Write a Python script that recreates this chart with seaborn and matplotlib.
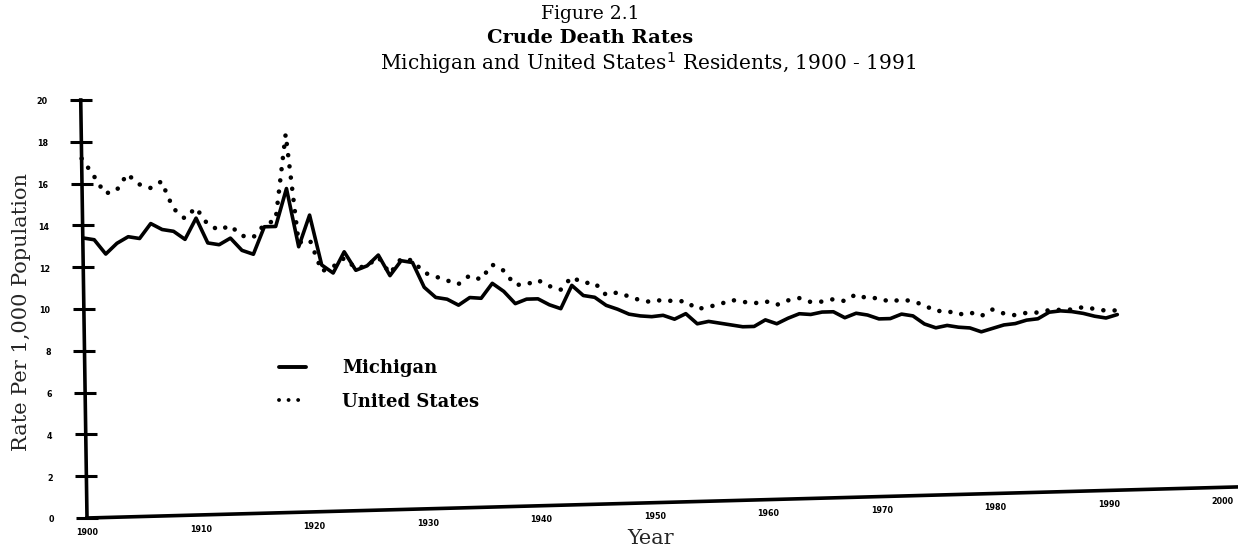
import matplotlib
matplotlib.use("Agg")
import matplotlib.pyplot as plt
from matplotlib.transforms import Affine2D
import pandas as pd
import seaborn as sns

# Crude death rates per 1,000 population
years = list(range(1900, 1992))

michigan = [
    13.4, 13.3, 12.6, 13.1, 13.4, 13.3, 14.0, 13.7, 13.6, 13.2,   # 1900s
    14.2, 13.0, 12.9, 13.2, 12.6, 12.4, 13.7, 13.7, 15.5, 12.7,   # 1910s
    14.2, 11.8, 11.4, 12.4, 11.5, 11.7, 12.2, 11.2, 11.9, 11.8,   # 1920s
    10.6, 10.1, 10.0, 9.7, 10.05, 10.0, 10.7, 10.3, 9.7, 9.9,     # 1930s
    9.9, 9.6, 9.4, 10.5, 10.0, 9.9, 9.5, 9.3, 9.05, 8.95,         # 1940s
    8.9, 8.95, 8.75, 9.0, 8.5, 8.6, 8.5, 8.4, 8.3, 8.3,           # 1950s
    8.6, 8.4, 8.65, 8.85, 8.8, 8.9, 8.9, 8.6, 8.8, 8.7,           # 1960s
    8.5, 8.5, 8.7, 8.6, 8.2, 8.0, 8.1, 8.0, 7.95, 7.75,           # 1970s
    7.9, 8.05, 8.1, 8.25, 8.3, 8.6, 8.65, 8.6, 8.5, 8.35,         # 1980s
    8.25, 8.4,                                                    # 1990s
]

united_states = [
    17.2, 16.4, 15.5, 15.6, 16.4, 15.9, 15.7, 16.0, 14.7, 14.2,
    14.7, 13.9, 13.6, 13.8, 13.3, 13.2, 13.8, 14.0, 18.1, 12.9,
    13.0, 11.5, 11.7, 12.1, 11.6, 11.7, 12.1, 11.3, 12.0, 11.9,
    11.3, 11.1, 10.9, 10.7, 11.1, 10.9, 11.6, 11.3, 10.6, 10.6,
    10.8, 10.5, 10.3, 10.9, 10.6, 10.6, 10.0, 10.1, 9.9, 9.7,
    9.6, 9.7, 9.6, 9.6, 9.2, 9.3, 9.4, 9.6, 9.5, 9.4,
    9.5, 9.3, 9.5, 9.6, 9.4, 9.4, 9.5, 9.4, 9.7, 9.5,
    9.5, 9.3, 9.4, 9.3, 9.1, 8.8, 8.8, 8.6, 8.7, 8.5,
    8.8, 8.6, 8.5, 8.6, 8.6, 8.7, 8.7, 8.7, 8.8, 8.7,
    8.6, 8.6,
]

series_names = ["Michigan", "United States"]
y_ticks = [0, 2, 4, 6, 8, 10, 12, 14, 16, 18, 20]
x_ticks = [1900, 1910, 1920, 1930, 1940, 1950, 1960, 1970, 1980, 1990, 2000]

df = pd.DataFrame({
    "Year": years * 2,
    "Rate": michigan + united_states,
    "Area": [series_names[0]] * len(years) + [series_names[1]] * len(years),
})

sns.set_theme(style="white")
plt.rcParams["font.family"] = ["DejaVu Serif"]

DPI = 100
W, H = 1238, 549
fig = plt.figure(figsize=(W / DPI, H / DPI), dpi=DPI)
x0, y0 = 87, 31            # axes origin in pixels (from bottom-left)
ax = fig.add_axes([x0 / W, y0 / H, 1151 / W, 418 / H])

sns.lineplot(
    data=df, x="Year", y="Rate", style="Area",
    dashes={"Michigan": "", "United States": (0.01, 2.45)},
    color="black", linewidth=2.6, ax=ax,
)
# heavier round dots for the national series
ax.lines[1].set_linewidth(3.3)

ax.set_xlim(1900, 2001.4)
ax.set_ylim(0, 20)
ax.set_xticks(x_ticks)
ax.set_yticks(y_ticks)
ax.set_xticklabels([str(t) for t in x_ticks])
ax.set_yticklabels([str(t) for t in y_ticks])

for side in ("top", "right"):
    ax.spines[side].set_visible(False)
for side in ("left", "bottom"):
    ax.spines[side].set_linewidth(2.6)
    ax.spines[side].set_color("black")

ax.tick_params(axis="y", direction="inout", length=16, width=2.2, pad=16,
               colors="black", left=True)
ax.tick_params(axis="x", length=0, pad=7, colors="black", bottom=True)
for lab in ax.get_xticklabels() + ax.get_yticklabels():
    lab.set_fontfamily("DejaVu Sans")
    lab.set_fontweight("bold")
    lab.set_fontsize(5.8)

ax.set_xlabel("Year", fontsize=15)
ax.xaxis.label.set_va("center")
ax.xaxis.set_label_coords((651 - x0) / 1151, -0.05)
ax.set_ylabel("Rate Per 1,000 Population", fontsize=15)
ax.yaxis.label.set_va("center")
ax.yaxis.set_label_coords((22 - x0) / 1151, 0.493)

# Legend
handles, labels = ax.get_legend_handles_labels()
leg = ax.legend(handles, labels, loc="upper left",
                bbox_to_anchor=((263 - x0) / 1151, (549 - 343 - y0) / 418),
                frameon=False, handlelength=1.5, handletextpad=2.0,
                labelspacing=0.85, prop={"family": "DejaVu Serif",
                                         "weight": "bold", "size": 13})
for h in leg.get_lines():
    h.set_dash_capstyle("round")
    h.set_linewidth(2.8)
for t in leg.get_texts():
    t.set_color("black")

# Titles
fig.text(590 / W, 1 - 14 / H, "Figure 2.1", ha="center", va="center",
         fontsize=13.5, color="black")
fig.text(590 / W, 1 - 38 / H, "Crude Death Rates", ha="center", va="center",
         fontsize=14, fontweight="bold", color="black")
fig.text(648 / W, 1 - 63 / H, "Michigan and United States$^{1}$ Residents, 1900 - 1991",
         ha="center", va="center", fontsize=14.5, color="black")

# Round dots for the dotted series
for line in ax.lines:
    line.set_dash_capstyle("round")
    line.set_solid_capstyle("round")
    line.set_solid_joinstyle("round")
    line.set_clip_on(False)

# The printed frame is slightly tilted: shear plot area content in pixel space
a_lean, k_rise = 0.015, 0.027
tilt = Affine2D([[1, -a_lean, a_lean * y0],
                 [k_rise, 1, -k_rise * x0],
                 [0, 0, 1]])

fig.canvas.draw()
for line in ax.lines:
    line.set_transform(line.get_transform() + tilt)
for side in ("left", "bottom"):
    sp = ax.spines[side]
    sp.set_transform(sp.get_transform() + tilt)
for tick in ax.xaxis.get_major_ticks() + ax.yaxis.get_major_ticks():
    for art in (tick.tick1line, tick.label1):
        art.set_transform(art.get_transform() + tilt)

fig.savefig("out.png", dpi=DPI, facecolor="white")
